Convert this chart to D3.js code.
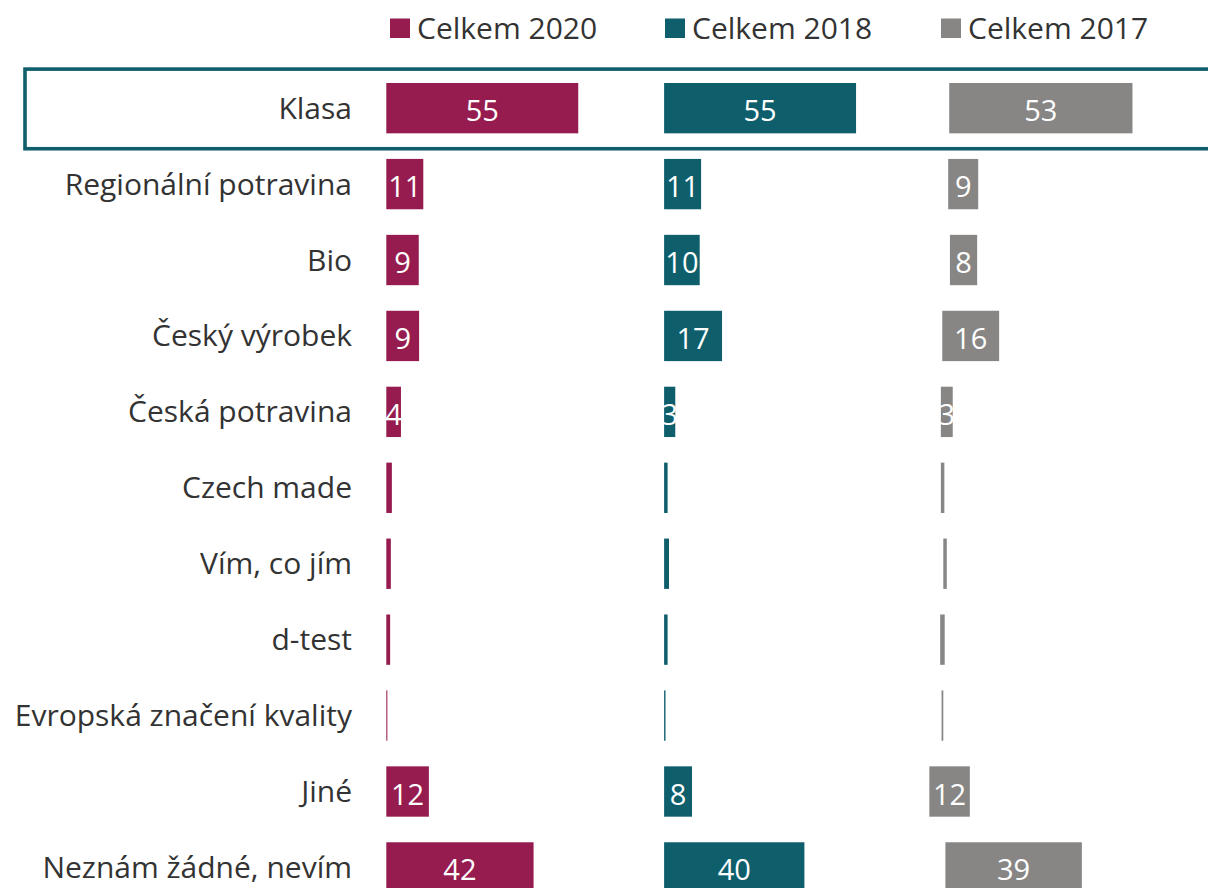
<!DOCTYPE html>
<html>
<head>
<meta charset="utf-8">
<script src="https://cdn.jsdelivr.net/npm/d3@7"></script>
<style>
  body { margin: 0; background: #fff; }
  text { font-family: "Open Sans", "Noto Sans", sans-serif; }
</style>
</head>
<body>
<svg id="chart"></svg>
<script>
// Kategorie (značky kvality)
const kategorie = [
  "Klasa", "Regionální potravina", "Bio", "Český výrobek", "Česká potravina",
  "Czech made", "Vím, co jím", "d-test", "Evropská značení kvality", "Jiné",
  "Neznám žádné, nevím"
];
const roky = ["Celkem 2020", "Celkem 2018", "Celkem 2017"];

// hodnoty v %
const celkem2020 = [55, 10.6, 9.3, 9.4, 4.2, 1.6, 1.3, 1.1, 0.3, 12.2, 42.2];
const celkem2018 = [55, 10.6, 10.2, 16.6, 3.2, 1.0, 1.4, 1.0, 0.4, 8.0, 40.2];
const celkem2017 = [52.5, 8.6, 7.8, 16.3, 3.4, 1.0, 1.0, 1.3, 0.5, 11.6, 39.1];
// skrytá řada mezi sloupci 2018 a 2017 (v původním grafu neviditelná)
const mezera2017 = [26.7, 70.8, 71.7, 63.1, 76.1, 78.3, 78.6, 78.1, 79.1, 68.0, 40.4];

const barvy = ["#961c50", "#0e5e6c", "#878685"];
const sirkaSloupce = 79.6; // šířka jednoho sloupce v jednotkách osy

const width = 1208;
const height = 888;

const svg = d3.select("#chart")
  .attr("width", width)
  .attr("height", height);

// data pro stack: 2020, mezera, 2018, mezera, 2017
const radky = kategorie.map((k, i) => ({
  kategorie: k,
  c2020: celkem2020[i],
  m1: sirkaSloupce - celkem2020[i],
  c2018: celkem2018[i],
  m2: mezera2017[i],
  c2017: celkem2017[i]
}));

const klice = ["c2020", "m1", "c2018", "m2", "c2017"];
const serie = d3.stack().keys(klice)(radky);

const x = d3.scaleLinear()
  .domain([0, 240])
  .range([386.3, 386.3 + 240 * 3.49]);

const y = d3.scaleBand()
  .domain(kategorie)
  .range([70.2, 905.4])
  .paddingInner(0.337)
  .paddingOuter(0.1685);

// rámeček kolem Klasa
svg.append("rect")
  .attr("x", 25)
  .attr("y", y("Klasa") - 13.9)
  .attr("width", width + 20)
  .attr("height", y.bandwidth() + 29.3)
  .attr("fill", "none")
  .attr("stroke", "#0f5e6b")
  .attr("stroke-width", 3.6);

// popisky kategorií
svg.selectAll(".kat")
  .data(kategorie)
  .enter()
  .append("text")
  .attr("class", "kat")
  .attr("x", 352)
  .attr("y", d => y(d) + y.bandwidth() / 2)
  .attr("dy", "0.35em")
  .attr("text-anchor", "end")
  .attr("font-size", 30)
  .attr("fill", "#333")
  .text(d => d);

// viditelné řady
const viditelne = serie.filter(s => s.key.startsWith("c"));

const skupiny = svg.selectAll(".serie")
  .data(viditelne)
  .enter()
  .append("g")
  .attr("class", "serie")
  .attr("fill", (d, i) => barvy[i]);

skupiny.selectAll("rect")
  .data(d => d)
  .enter()
  .append("rect")
  .attr("x", d => x(d[0]))
  .attr("y", d => y(d.data.kategorie))
  .attr("width", d => x(d[1]) - x(d[0]))
  .attr("height", y.bandwidth());

// hodnoty v pruzích
skupiny.selectAll("text")
  .data(d => d.filter(p => p[1] - p[0] >= 2.5))
  .enter()
  .append("text")
  .attr("x", d => (x(d[0]) + x(d[1])) / 2)
  .attr("y", d => y(d.data.kategorie) + y.bandwidth() / 2)
  .attr("dy", "0.45em")
  .attr("text-anchor", "middle")
  .attr("font-size", 29)
  .attr("fill", "#fff")
  .text(d => Math.round(d[1] - d[0]));

// legenda
const legendaX = [390, 665, 941];
const legenda = svg.selectAll(".legenda")
  .data(roky)
  .enter()
  .append("g")
  .attr("class", "legenda")
  .attr("transform", (d, i) => "translate(" + legendaX[i] + ",0)");

legenda.append("rect")
  .attr("y", 18.5)
  .attr("width", 20)
  .attr("height", 19.5)
  .attr("fill", (d, i) => barvy[i]);

legenda.append("text")
  .attr("x", 27)
  .attr("y", 38.5)
  .attr("font-size", 30)
  .attr("fill", "#333")
  .text(d => d);
</script>
</body>
</html>
